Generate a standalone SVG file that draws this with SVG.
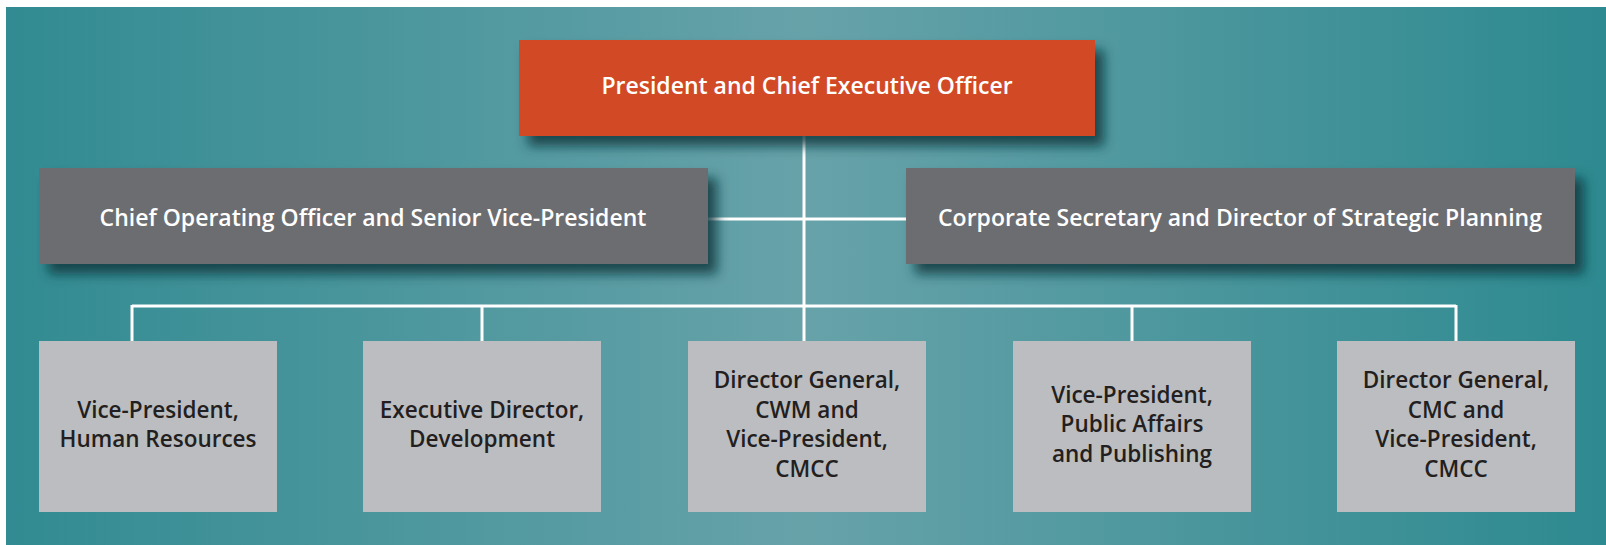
<svg xmlns="http://www.w3.org/2000/svg" width="1606" height="545" viewBox="0 0 1606 545">
  <defs>
    <linearGradient id="bg" x1="0" y1="0" x2="1" y2="0">
      <stop offset="0" stop-color="#328b92"/>
      <stop offset="0.5" stop-color="#67a2a9"/>
      <stop offset="1" stop-color="#2d8a90"/>
    </linearGradient>
    <filter id="shadow" x="-10%" y="-20%" width="125%" height="160%">
      <feDropShadow dx="9" dy="10" stdDeviation="6" flood-color="#103b40" flood-opacity="0.85"/>
    </filter>
    <style>
      .line { stroke: #ffffff; stroke-width: 3; fill: none; }
      .top { fill: #d24a27; }
      .mid { fill: #6c6d71; }
      .low { fill: #bcbdc0; }
      .tw { font-family: "Open Sans", Lato, sans-serif; font-weight: 600; font-size: 23px; fill: #ffffff; text-anchor: middle; }
      .tb { font-family: "Open Sans", Lato, sans-serif; font-weight: 600; font-size: 22.5px; fill: #231f20; text-anchor: middle; }
    </style>
  </defs>
  <rect x="0" y="0" width="1606" height="545" fill="#ffffff"/>
  <rect x="6" y="7" width="1600" height="538" fill="url(#bg)"/>

  <g id="connectors">
    <line class="line" x1="804" y1="136" x2="804" y2="341"/>
    <line class="line" x1="708" y1="219" x2="906" y2="219"/>
    <line class="line" x1="132" y1="306" x2="1456" y2="306"/>
    <line class="line" x1="132" y1="305" x2="132" y2="341"/>
    <line class="line" x1="482" y1="305" x2="482" y2="341"/>
    <line class="line" x1="1132" y1="305" x2="1132" y2="341"/>
    <line class="line" x1="1456" y1="305" x2="1456" y2="341"/>
  </g>

  <g id="ceo">
    <rect class="top" x="519" y="40" width="576" height="96" filter="url(#shadow)"/>
    <text class="tw" x="807" y="94">President and Chief Executive Officer</text>
  </g>
  <g id="coo">
    <rect class="mid" x="39" y="168" width="669" height="96" filter="url(#shadow)"/>
    <text class="tw" x="373" y="226">Chief Operating Officer and Senior Vice-President</text>
  </g>
  <g id="corpsec">
    <rect class="mid" x="906" y="168" width="669" height="96" filter="url(#shadow)"/>
    <text class="tw" x="1240" y="226">Corporate Secretary and Director of Strategic Planning</text>
  </g>

  <g id="vp-hr">
    <rect class="low" x="39" y="341" width="238" height="171"/>
    <text class="tb" x="158" y="418">Vice-President,</text>
    <text class="tb" x="158" y="447">Human Resources</text>
  </g>
  <g id="ed-dev">
    <rect class="low" x="363" y="341" width="238" height="171"/>
    <text class="tb" x="482" y="418">Executive Director,</text>
    <text class="tb" x="482" y="447">Development</text>
  </g>
  <g id="dg-cwm">
    <rect class="low" x="688" y="341" width="238" height="171"/>
    <text class="tb" x="807" y="388">Director General,</text>
    <text class="tb" x="807" y="418">CWM and</text>
    <text class="tb" x="807" y="447">Vice-President,</text>
    <text class="tb" x="807" y="477">CMCC</text>
  </g>
  <g id="vp-pa">
    <rect class="low" x="1013" y="341" width="238" height="171"/>
    <text class="tb" x="1132" y="403">Vice-President,</text>
    <text class="tb" x="1132" y="432">Public Affairs</text>
    <text class="tb" x="1132" y="462">and Publishing</text>
  </g>
  <g id="dg-cmc">
    <rect class="low" x="1337" y="341" width="238" height="171"/>
    <text class="tb" x="1456" y="388">Director General,</text>
    <text class="tb" x="1456" y="418">CMC and</text>
    <text class="tb" x="1456" y="447">Vice-President,</text>
    <text class="tb" x="1456" y="477">CMCC</text>
  </g>
</svg>
